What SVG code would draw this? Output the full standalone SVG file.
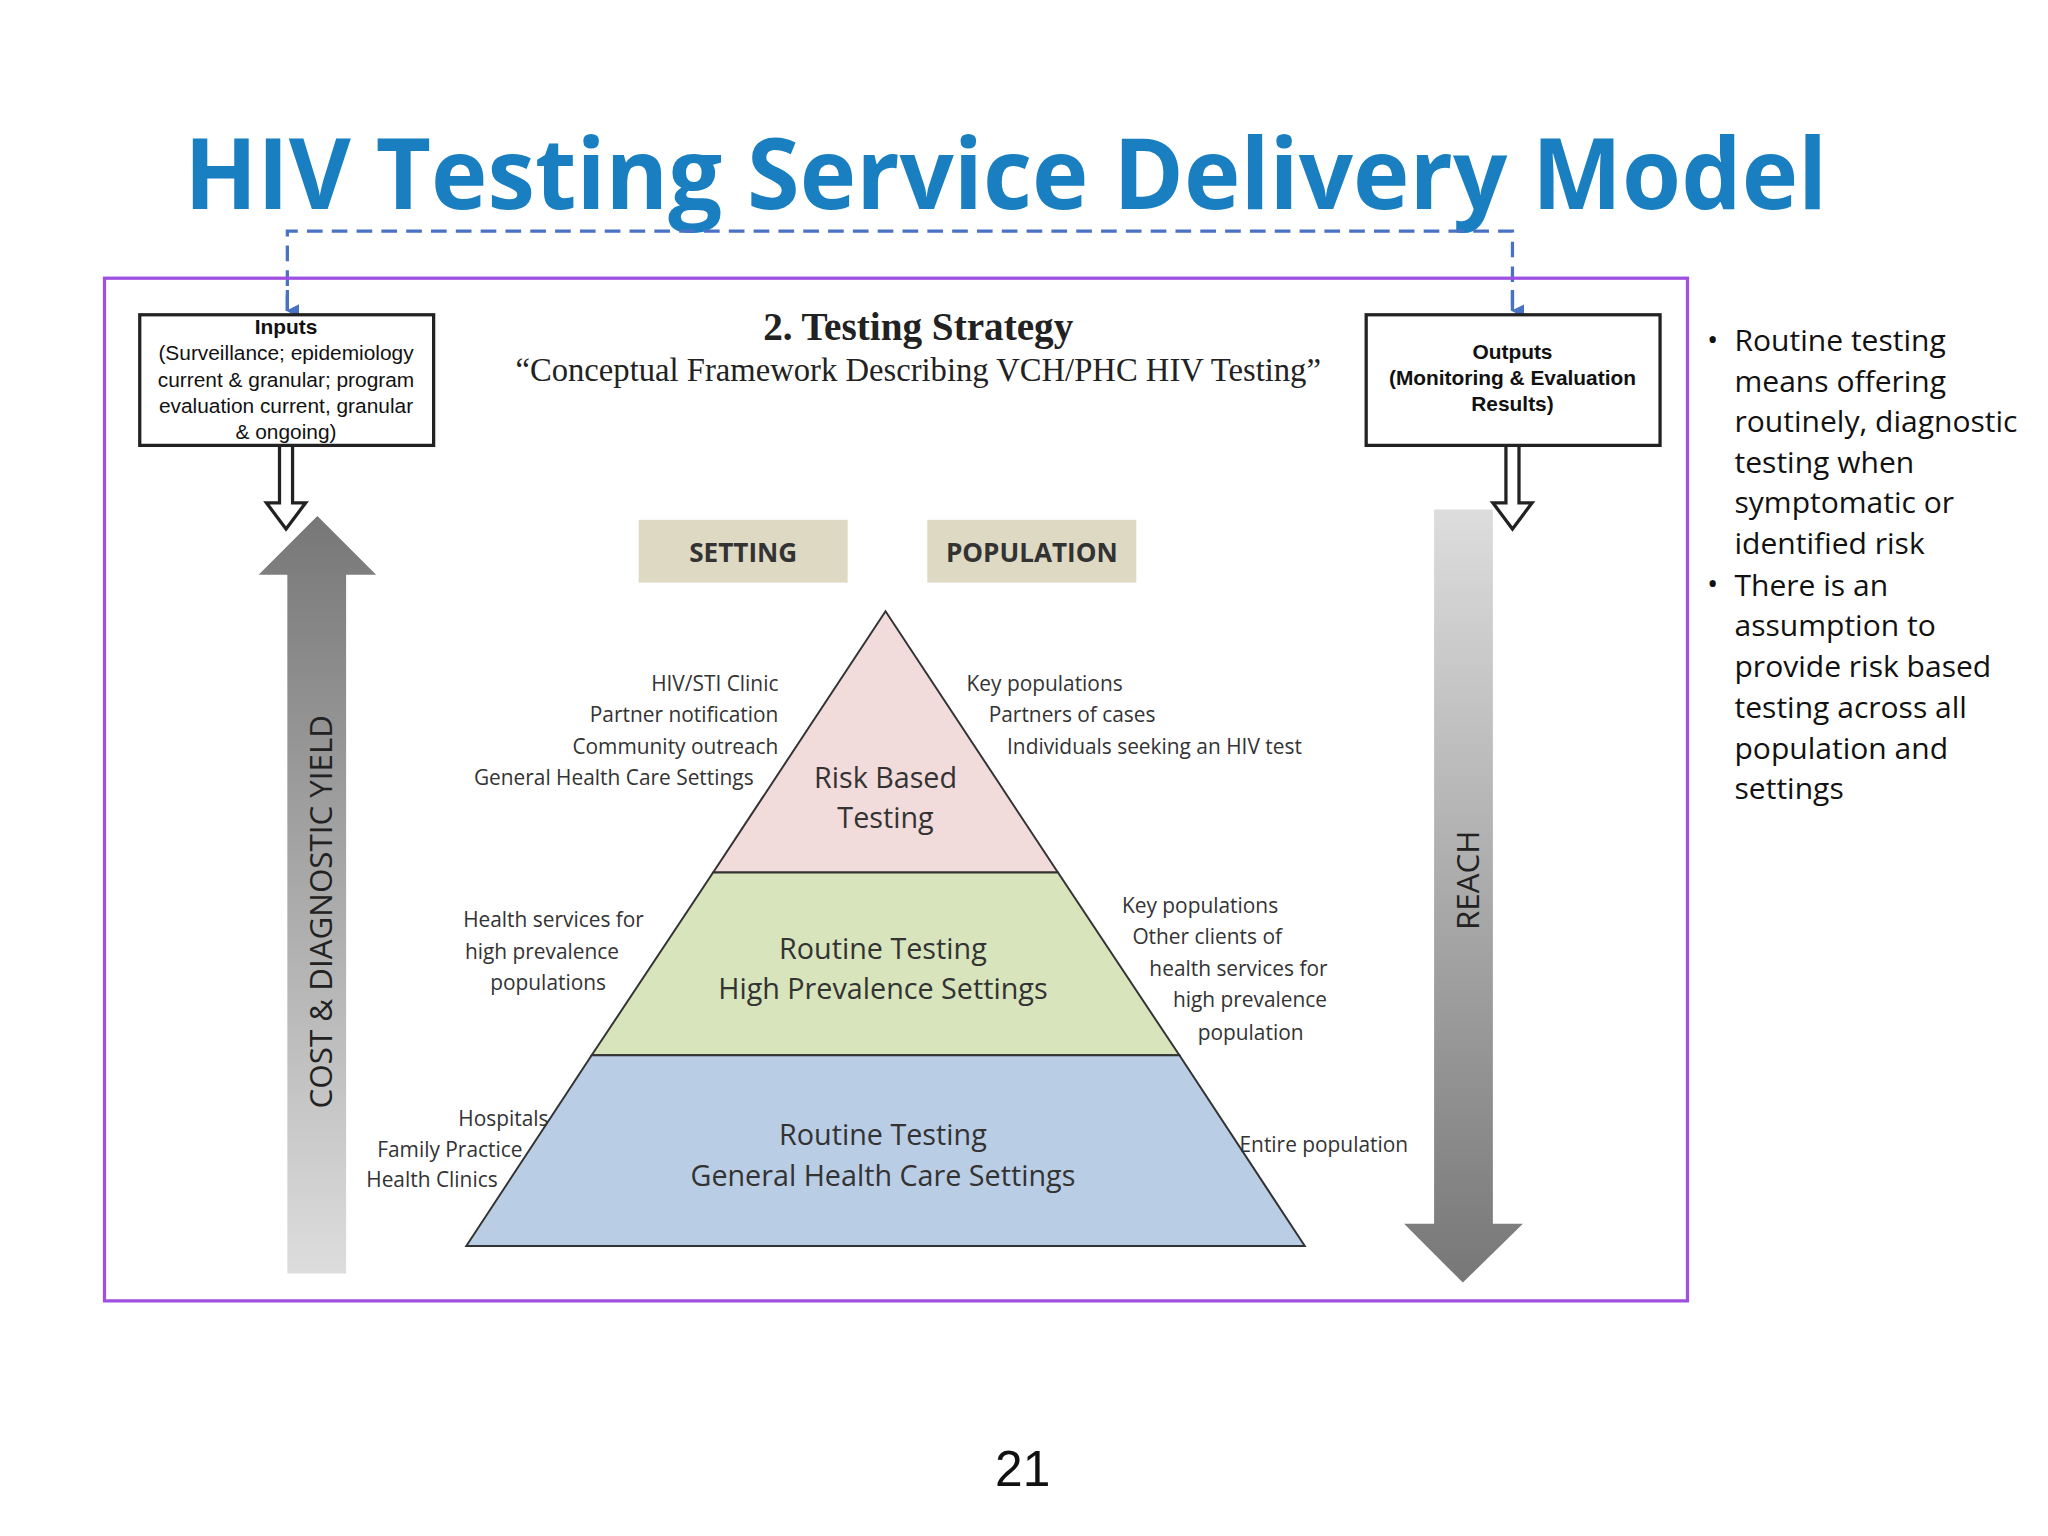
<svg xmlns="http://www.w3.org/2000/svg" width="2048" height="1536" viewBox="0 0 2048 1536">
<defs>
<style>
.s{font-family:"Open Sans","Liberation Sans",sans-serif;fill:#333}
.a{font-family:"Liberation Sans",Arial,sans-serif;fill:#111}
.b{font-family:"Liberation Sans",Arial,sans-serif;font-size:16px;fill:#111}
.r{font-family:"Open Sans","Liberation Sans",sans-serif;font-size:23px;fill:#111}
.box{fill:#fff;stroke:#222;stroke-width:2.5}
.hol{fill:#fff;stroke:#222;stroke-width:2.5}
</style>
<linearGradient id="gu" x1="0" y1="0" x2="0" y2="1"><stop offset="0" stop-color="#777"/><stop offset="1" stop-color="#ddd"/></linearGradient>
<linearGradient id="gd" x1="0" y1="0" x2="0" y2="1"><stop offset="0" stop-color="#ddd"/><stop offset="1" stop-color="#777"/></linearGradient>
<marker id="m" markerWidth="10" markerHeight="10" refX="5" refY="9" orient="auto" markerUnits="userSpaceOnUse" viewBox="0 0 10 10"><path d="M0,0 L10,0 L5,10z" fill="#4a72c4"/></marker>
</defs>
<rect width="2048" height="1536" fill="#fff"/>
<g transform="scale(1.3061)">
<text x="770" y="160" text-anchor="middle" font-family="'Open Sans','Liberation Sans',sans-serif" font-weight="bold" font-size="76" fill="#1a7fc1" textLength="1258" lengthAdjust="spacingAndGlyphs">HIV Testing Service Delivery Model</text>
<g id="connectors">
<path d="M220,238 V177 H1158 V238" fill="none" stroke="#4a72c4" stroke-width="2.5" stroke-dasharray="12,7"/>
<path d="M220,222 V238" stroke="#4a72c4" stroke-width="2.5" marker-end="url(#m)"/>
<path d="M1158,222 V238" stroke="#4a72c4" stroke-width="2.5" marker-end="url(#m)"/>
<path class="hol" d="M214,341 V385 H204 L219,405 L234,385 H224 V341z"/>
<path class="hol" d="M1153,341 V385 H1143 L1158,405 L1173,385 H1163 V341z"/>
</g>
<rect x="80" y="213" width="1212" height="783" fill="none" stroke="#a050e0" stroke-width="2.5"/>
<g id="inputs"><rect class="box" x="107" y="241" width="225" height="100"/>
<text class="b" x="219" y="256" text-anchor="middle" font-weight="bold">Inputs</text>
<text class="b" x="219" y="276" text-anchor="middle">(Surveillance; epidemiology</text>
<text class="b" x="219" y="296" text-anchor="middle">current &amp; granular; program</text>
<text class="b" x="219" y="316" text-anchor="middle">evaluation current, granular</text>
<text class="b" x="219" y="336" text-anchor="middle">&amp; ongoing)</text></g>
<g id="outputs"><rect class="box" x="1046" y="241" width="225" height="100"/>
<text class="b" x="1158" y="275" text-anchor="middle" font-weight="bold">Outputs</text>
<text class="b" x="1158" y="295" text-anchor="middle" font-weight="bold">(Monitoring &amp; Evaluation</text>
<text class="b" x="1158" y="315" text-anchor="middle" font-weight="bold">Results)</text></g>
<g id="heading">
<text x="703" y="260" text-anchor="middle" font-family="'Liberation Serif',serif" font-weight="bold" font-size="30" fill="#222">2. Testing Strategy</text>
<text x="703" y="292" text-anchor="middle" font-family="'Liberation Serif',serif" font-size="25" fill="#222">“Conceptual Framework Describing  VCH/PHC HIV Testing”</text></g>
<g id="cost"><path d="M220,975 V440 H198 L243,395 L288,440 H265 V975z" fill="url(#gu)"/>
<text transform="translate(254,698) rotate(-90)" text-anchor="middle" font-family="'Open Sans','Liberation Sans',sans-serif" font-size="24" fill="#222">COST &amp; DIAGNOSTIC YIELD</text></g>
<g id="reach"><path d="M1098,390 V937 H1075 L1120,982 L1166,937 H1143 V390z" fill="url(#gd)"/>
<text transform="translate(1132,674) rotate(-90)" text-anchor="middle" font-family="'Open Sans','Liberation Sans',sans-serif" font-size="24" fill="#222">REACH</text></g>
<g id="setting"><rect x="489" y="398" width="160" height="48" fill="#ddd9c3"/><text class="s" x="569" y="430" text-anchor="middle" font-size="20" font-weight="bold" fill="#222">SETTING</text></g>
<g id="population"><rect x="710" y="398" width="160" height="48" fill="#ddd9c3"/><text class="s" x="790" y="430" text-anchor="middle" font-size="20" font-weight="bold" fill="#222">POPULATION</text></g>
<g id="risk"><path d="M678,468 L810,668 H546z" fill="#f2dcdb" stroke="#333" stroke-width="1.5"/>
<text class="s" x="678" y="603" text-anchor="middle" font-size="22">Risk Based</text><text class="s" x="678" y="634" text-anchor="middle" font-size="22">Testing</text></g>
<g id="routine-high"><path d="M546,668 H810 L903,808 H453z" fill="#d7e4bc" stroke="#333" stroke-width="1.5"/>
<text class="s" x="676" y="734" text-anchor="middle" font-size="22">Routine Testing</text><text class="s" x="676" y="765" text-anchor="middle" font-size="22">High Prevalence  Settings</text></g>
<g id="routine-general"><path d="M453,808 H903 L999,954 H357z" fill="#b9cde5" stroke="#333" stroke-width="1.5"/>
<text class="s" x="676" y="877" text-anchor="middle" font-size="22">Routine Testing</text><text class="s" x="676" y="908" text-anchor="middle" font-size="22">General Health Care Settings</text></g>
<g id="labels" class="s" font-size="16">
<text x="596" y="529" text-anchor="end">HIV/STI Clinic</text>
<text x="596" y="553" text-anchor="end">Partner notification</text>
<text x="596" y="577" text-anchor="end">Community outreach</text>
<text x="577" y="601" text-anchor="end">General Health Care Settings</text>
<text x="740" y="529">Key populations</text>
<text x="757" y="553">Partners of cases</text>
<text x="771" y="577">Individuals seeking  an HIV test</text>
<text x="493" y="710" text-anchor="end">Health services for</text>
<text x="474" y="734" text-anchor="end">high prevalence</text>
<text x="464" y="758" text-anchor="end">populations</text>
<text x="859" y="699">Key populations</text>
<text x="867" y="723">Other clients of</text>
<text x="880" y="747">health services for</text>
<text x="898" y="771">high prevalence</text>
<text x="917" y="796">population</text>
<text x="420" y="862" text-anchor="end">Hospitals</text>
<text x="400" y="886" text-anchor="end">Family Practice</text>
<text x="381" y="909" text-anchor="end">Health Clinics</text>
<text x="949" y="882">Entire population</text>
</g>
<g id="bullets" class="r">
<text x="1307" y="268">•</text>
<text x="1328" y="269">Routine testing</text>
<text x="1328" y="300">means offering</text>
<text x="1328" y="331">routinely, diagnostic</text>
<text x="1328" y="362">testing when</text>
<text x="1328" y="393">symptomatic or</text>
<text x="1328" y="424">identified risk</text>
<text x="1307" y="455">•</text>
<text x="1328" y="456">There is an</text>
<text x="1328" y="487">assumption to</text>
<text x="1328" y="518">provide risk based</text>
<text x="1328" y="550">testing across all</text>
<text x="1328" y="581">population and</text>
<text x="1328" y="612">settings</text>
</g>
<text x="783" y="1138" text-anchor="middle" font-family="'Liberation Sans',Arial,sans-serif" font-size="38" fill="#111">21</text>
</g>
</svg>
